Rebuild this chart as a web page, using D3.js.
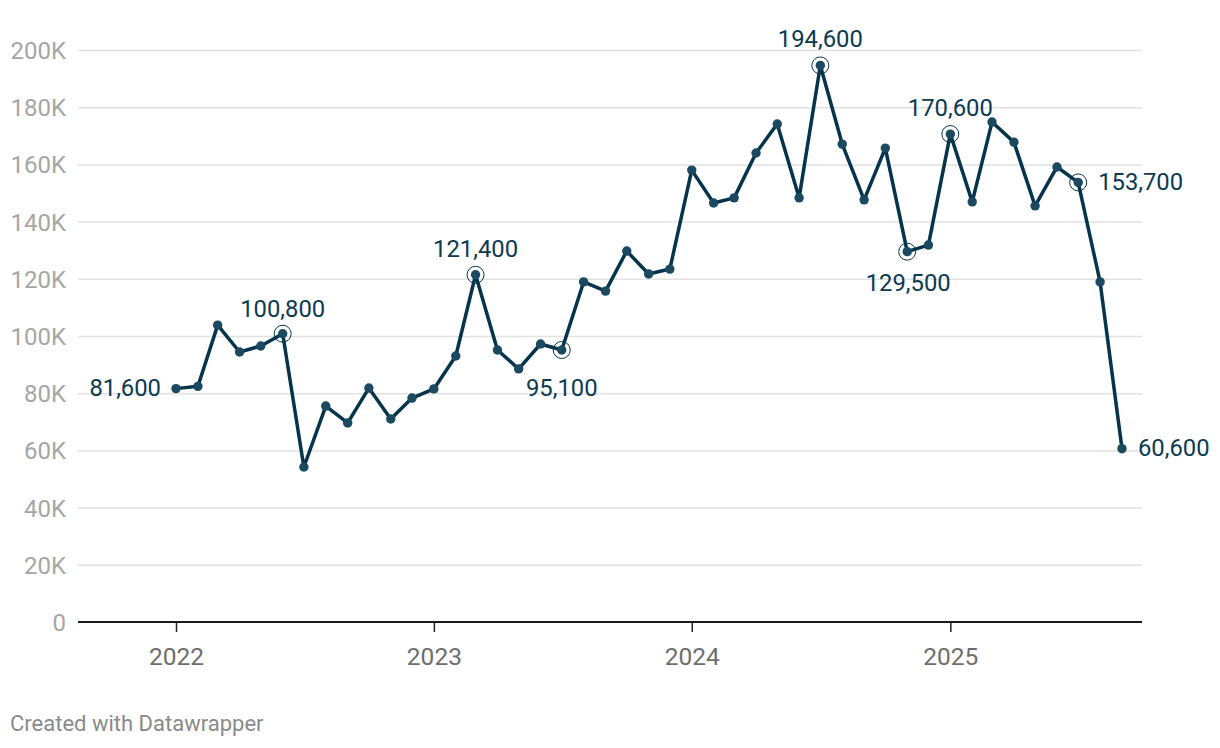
<!DOCTYPE html>
<html>
<head>
<meta charset="utf-8">
<script src="https://cdn.jsdelivr.net/npm/d3@7"></script>
<style>
  html, body { margin: 0; padding: 0; background: #fff; }
  svg { display: block; font-family: Roboto, "Noto Sans", sans-serif; }
</style>
</head>
<body>
<svg id="chart" width="1220" height="748"></svg>
<script>
// ---- data ----
const months = [
  "2022-01","2022-02","2022-03","2022-04","2022-05","2022-06","2022-07","2022-08","2022-09","2022-10","2022-11","2022-12",
  "2023-01","2023-02","2023-03","2023-04","2023-05","2023-06","2023-07","2023-08","2023-09","2023-10","2023-11","2023-12",
  "2024-01","2024-02","2024-03","2024-04","2024-05","2024-06","2024-07","2024-08","2024-09","2024-10","2024-11","2024-12",
  "2025-01","2025-02","2025-03","2025-04","2025-05","2025-06","2025-07","2025-08","2025-09"
];
const values = [
  81600, 82400, 103800, 94400, 96500, 100800, 54200, 75500, 69600, 81800, 71000, 78300,
  81500, 93000, 121400, 95100, 88500, 97200, 95100, 118900, 115700, 129700, 121700, 123400,
  158000, 146500, 148300, 164000, 174100, 148300, 194600, 167100, 147600, 165700, 129500, 131800,
  170600, 146900, 174800, 167800, 145500, 159100, 153700, 118900, 60600
];
const yTicks = [0, 20000, 40000, 60000, 80000, 100000, 120000, 140000, 160000, 180000, 200000];
const yTickLabels = ["0", "20K", "40K", "60K", "80K", "100K", "120K", "140K", "160K", "180K", "200K"];
const yearTicks = ["2022-01", "2023-01", "2024-01", "2025-01"];
const yearLabels = ["2022", "2023", "2024", "2025"];
// annotated points
const annoMonths = ["2022-01", "2022-06", "2023-03", "2023-07", "2024-07", "2024-11", "2025-01", "2025-07", "2025-09"];
const annoLabels = ["81,600", "100,800", "121,400", "95,100", "194,600", "129,500", "170,600", "153,700", "60,600"];
const annoCircle = [false, true, true, true, true, true, true, true, false];

// ---- annotation layout (pixel offsets from point; style, not data) ----
const annoAnchor = ["end", "middle", "middle", "middle", "middle", "middle", "middle", "start", "start"];
const annoDx = [-15, 0, 0, 0, 0, 1, 0, 20, 16];
const annoDy = [7, -17, -18, 46, -18, 39, -18, 8, 7];

// ---- layout ----
const svg = d3.select("#chart");
const parse = d3.timeParse("%Y-%m");
const dates = months.map(parse);
const data = dates.map((d, i) => ({ date: d, value: values[i] }));

const x = d3.scaleTime()
  .domain([dates[0], dates[dates.length - 1]])
  .range([176, 1122]);
const y = d3.scaleLinear().domain([0, 200000]).range([622, 50]);
const plotLeft = 78, plotRight = 1142;

const lineColor = "#05344c";
const dotColor = "#1b4960";
const labelColor = "#0b3a52";

// gridlines
const grid = svg.append("g")
  .attr("transform", `translate(${plotLeft},0)`)
  .call(d3.axisLeft(y).tickValues(yTicks.filter(v => v > 0)).tickSize(-(plotRight - plotLeft)).tickFormat(""));
grid.select(".domain").remove();
grid.selectAll(".tick line").attr("stroke", "#e2e2e2").attr("stroke-width", 1.5);

// y labels
const yAx = svg.append("g")
  .attr("transform", `translate(66,0)`)
  .call(d3.axisLeft(y).tickValues(yTicks).tickSize(0).tickPadding(0)
    .tickFormat((d, i) => yTickLabels[i]));
yAx.select(".domain").remove();
yAx.selectAll("text")
  .attr("fill", "#a6a6a6")
  .style("font-size", "24px")
  .style("font-family", "Roboto, sans-serif")
  .attr("dy", "0.35em");

// x axis
const xAx = svg.append("g")
  .attr("transform", `translate(0,${y(0)})`)
  .call(d3.axisBottom(x).tickValues(yearTicks.map(parse)).tickSize(10).tickPadding(16)
    .tickFormat((d, i) => yearLabels[i]));
xAx.select(".domain").remove();
xAx.selectAll(".tick line").attr("stroke", "#222").attr("stroke-width", 1.5);
xAx.selectAll("text")
  .attr("fill", "#6e6e6e")
  .style("font-size", "24.5px")
  .style("font-family", "Roboto, sans-serif");
svg.append("line")
  .attr("x1", plotLeft).attr("x2", plotRight)
  .attr("y1", y(0)).attr("y2", y(0))
  .attr("stroke", "#1a1a1a").attr("stroke-width", 2);

// line
svg.append("path")
  .datum(data)
  .attr("fill", "none")
  .attr("stroke", lineColor)
  .attr("stroke-width", 3.5)
  .attr("stroke-linejoin", "round")
  .attr("d", d3.line().x(d => x(d.date)).y(d => y(d.value)));

// dots
svg.append("g").selectAll("circle")
  .data(data).join("circle")
  .attr("cx", d => x(d.date)).attr("cy", d => y(d.value))
  .attr("r", 4.7).attr("fill", dotColor);

// annotations
const anno = annoMonths.map((m, i) => {
  const idx = months.indexOf(m);
  return { d: data[idx], label: annoLabels[i], circle: annoCircle[i],
           anchor: annoAnchor[i], dx: annoDx[i], dy: annoDy[i] };
});
const ag = svg.append("g");
ag.selectAll("circle.ring")
  .data(anno.filter(a => a.circle)).join("circle")
  .attr("class", "ring")
  .attr("cx", a => x(a.d.date)).attr("cy", a => y(a.d.value))
  .attr("r", 8.5).attr("fill", "none").attr("stroke", lineColor).attr("stroke-width", 1);

ag.selectAll("text")
  .data(anno).join("text")
  .attr("x", a => x(a.d.date) + a.dx)
  .attr("y", a => y(a.d.value) + a.dy)
  .attr("text-anchor", a => a.anchor)
  .attr("fill", labelColor)
  .style("font-size", "23.8px")
  .text(a => a.label);

// footer
svg.append("text")
  .attr("x", 10).attr("y", 731)
  .attr("fill", "#8a8a8a")
  .style("font-size", "22px")
  .text("Created with Datawrapper");
</script>
</body>
</html>
